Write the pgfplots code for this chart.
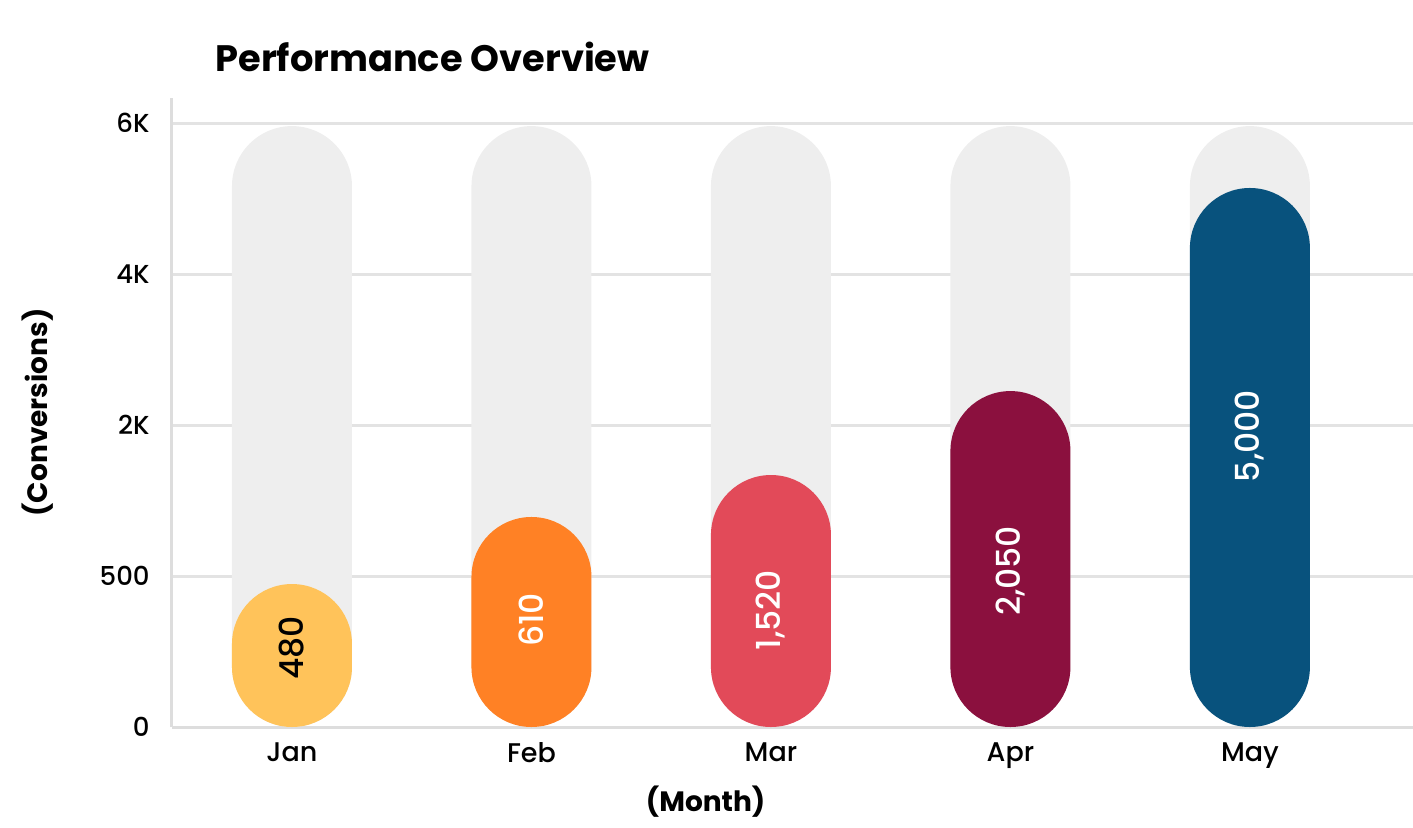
\documentclass[border=0pt]{standalone}
\usepackage{fontspec}
\setmainfont{Poppins}[UprightFont={* Medium}, BoldFont={* Bold}]
\usepackage{pgfplots}
\pgfplotsset{compat=1.18}
\definecolor{cJan}{HTML}{FFC35A}
\definecolor{cFeb}{HTML}{FF8125}
\definecolor{cMar}{HTML}{E24A59}
\definecolor{cApr}{HTML}{8B103E}
\definecolor{cMay}{HTML}{08527D}
\definecolor{cBg}{HTML}{EEEEEE}
\definecolor{cGrid}{HTML}{E3E3E3}
\definecolor{cAxis}{HTML}{DDDDDD}
\begin{document}
\begin{tikzpicture}
\path[use as bounding box] (-86pt,-50pt) rectangle (620.5pt,363.5pt);
\begin{axis}[
  at={(0,0)}, anchor=south west,
  scale only axis,
  width=620.5pt, height=314.5pt,
  xmin=-0.501, xmax=4.681,
  ymin=0, ymax=4.166,
  axis lines*=left,
  axis line style={draw=cAxis, line width=1.5pt},
  every outer x axis line/.append style={-},
  every outer y axis line/.append style={-},
  xtick={0,1,2,3,4},
  xticklabels={Jan,Feb,Mar,Apr,May},
  ytick={0,1,2,3,4},
  yticklabels={0,500,2K,4K,6K},
  major tick length=0pt,
  tick style={draw=none},
  ymajorgrids,
  grid style={draw=cGrid, line width=1.5pt},
  xticklabel style={font=\fontsize{13.5}{16}\selectfont, anchor=north, inner sep=0pt, yshift=-7.5pt},
  yticklabel style={font=\fontsize{13}{16}\selectfont, anchor=east, inner sep=0pt, xshift=-11pt},
  xlabel={(Month)},
  xlabel style={font=\bfseries\fontsize{14}{17}\selectfont, at={(axis description cs:0.430,0)}, anchor=center, yshift=-37.5pt},
  ylabel={(Conversions)},
  ylabel style={font=\bfseries\fontsize{14}{17}\selectfont, at={(axis description cs:-0.108,0.5)}, anchor=center},
  title={Performance Overview},
  title style={font=\bfseries\fontsize{18.4}{22}\selectfont, at={(axis description cs:0,1)}, anchor=base west, inner sep=0pt, xshift=21.5pt, yshift=7pt},
  clip=false,
]
% background pills (full scale, 6K)
\addplot[ybar, bar width=60pt, bar shift=0pt, fill=cBg, draw=none, rounded corners=30pt]
  coordinates {(0,3.98) (1,3.98) (2,3.98) (3,3.98) (4,3.98)};
% value pills (heights in axis-tick units: 0,500,2K,4K,6K equally spaced)
\addplot[ybar, bar width=60pt, bar shift=0pt, fill=cJan, draw=none, rounded corners=30pt] coordinates {(0,0.947)};
\addplot[ybar, bar width=60pt, bar shift=0pt, fill=cFeb, draw=none, rounded corners=30pt] coordinates {(1,1.391)};
\addplot[ybar, bar width=60pt, bar shift=0pt, fill=cMar, draw=none, rounded corners=30pt] coordinates {(2,1.669)};
\addplot[ybar, bar width=60pt, bar shift=0pt, fill=cApr, draw=none, rounded corners=30pt] coordinates {(3,2.225)};
\addplot[ybar, bar width=60pt, bar shift=0pt, fill=cMay, draw=none, rounded corners=30pt] coordinates {(4,3.570)};
% value labels
\addplot[draw=none, mark=none, point meta=explicit,
  nodes near coords={\pgfmathprintnumber[1000 sep={,}, assume math mode=true, fixed, precision=0]{\pgfplotspointmeta}},
  nodes near coords align=center,
  every node near coord/.style={rotate=90, anchor=center, text=black, font=\fontsize{16.5}{19}\selectfont}]
  coordinates {(0,0.523) [480]};
\addplot[draw=none, mark=none, point meta=explicit,
  nodes near coords={\pgfmathprintnumber[1000 sep={,}, assume math mode=true, fixed, precision=0]{\pgfplotspointmeta}},
  nodes near coords align=center,
  every node near coord/.style={rotate=90, anchor=center, text=white, font=\fontsize{16.5}{19}\selectfont}]
  coordinates {(1,0.709) [610] (2,0.775) [1520] (3,1.033) [2050] (4,1.927) [5000]};
\end{axis}
\end{tikzpicture}
\end{document}
